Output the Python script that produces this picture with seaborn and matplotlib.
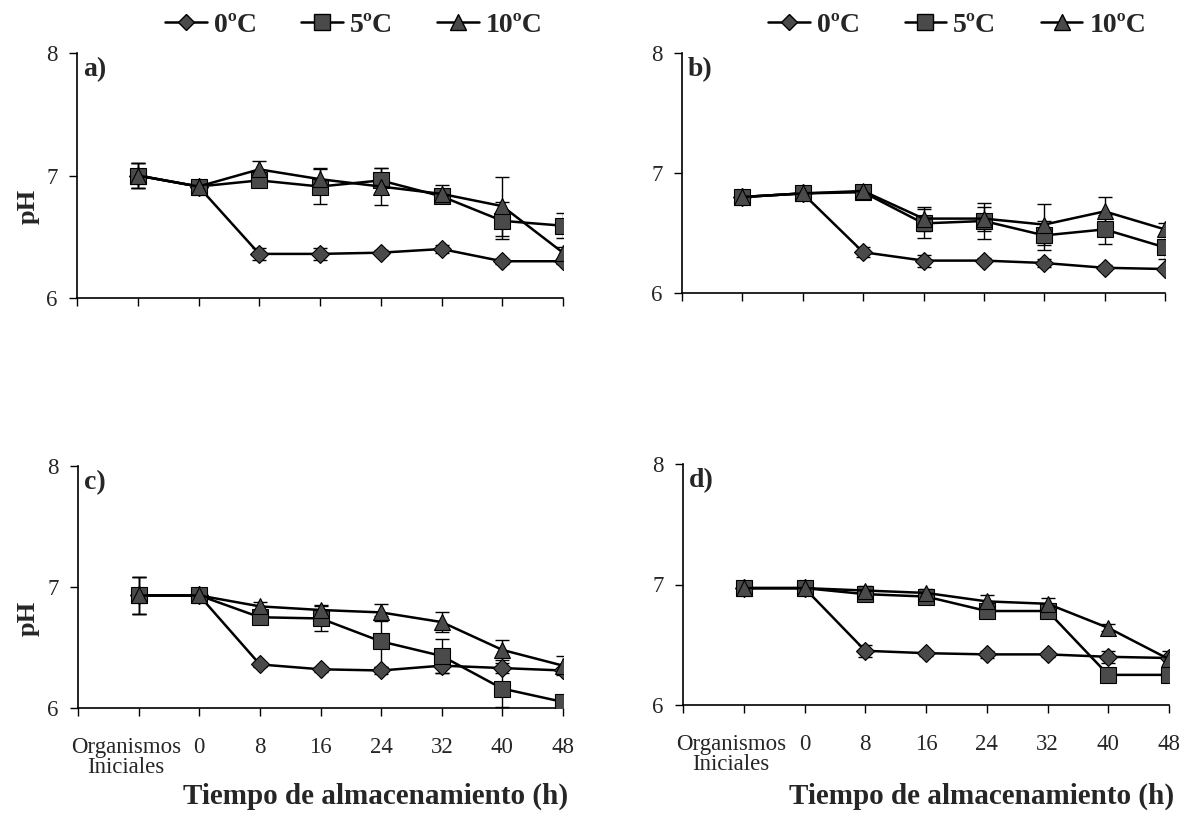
import matplotlib
matplotlib.use("Agg")
import matplotlib.pyplot as plt
import seaborn as sns
from matplotlib.lines import Line2D

# --- data ---
x_labels = ["Organismos\nIniciales", "0", "8", "16", "24", "32", "40", "48"]
temps = ["0ºC", "5ºC", "10ºC"]

a_0 = [7.00, 6.91, 6.36, 6.36, 6.37, 6.40, 6.30, 6.30]
a_5 = [7.00, 6.91, 6.96, 6.91, 6.96, 6.83, 6.63, 6.59]
a_10 = [7.00, 6.91, 7.05, 6.97, 6.91, 6.85, 6.75, 6.37]
a_0_err = [0.10, 0.02, 0.05, 0.05, 0.02, 0.03, 0.02, 0.02]
a_5_err = [0.10, 0.02, 0.05, 0.14, 0.10, 0.05, 0.15, 0.10]
a_10_err = [0.10, 0.02, 0.07, 0.09, 0.15, 0.07, 0.24, 0.05]

b_0 = [6.80, 6.83, 6.34, 6.27, 6.27, 6.25, 6.21, 6.20]
b_5 = [6.80, 6.83, 6.84, 6.58, 6.60, 6.48, 6.53, 6.38]
b_10 = [6.80, 6.83, 6.85, 6.62, 6.62, 6.57, 6.68, 6.53]
b_0_err = [0.02, 0.02, 0.04, 0.05, 0.02, 0.03, 0.02, 0.02]
b_5_err = [0.02, 0.02, 0.02, 0.12, 0.15, 0.12, 0.12, 0.10]
b_10_err = [0.02, 0.02, 0.03, 0.10, 0.10, 0.17, 0.12, 0.05]

c_0 = [6.93, 6.93, 6.36, 6.32, 6.31, 6.35, 6.33, 6.31]
c_5 = [6.93, 6.93, 6.75, 6.74, 6.55, 6.43, 6.16, 6.05]
c_10 = [6.93, 6.93, 6.84, 6.81, 6.79, 6.71, 6.48, 6.35]
c_0_err = [0.15, 0.02, 0.02, 0.02, 0.03, 0.06, 0.04, 0.02]
c_5_err = [0.15, 0.02, 0.04, 0.10, 0.21, 0.14, 0.15, 0.03]
c_10_err = [0.15, 0.02, 0.04, 0.04, 0.07, 0.08, 0.08, 0.08]

d_0 = [6.97, 6.97, 6.45, 6.43, 6.42, 6.42, 6.40, 6.39]
d_5 = [6.97, 6.97, 6.92, 6.90, 6.78, 6.78, 6.25, 6.25]
d_10 = [6.97, 6.97, 6.95, 6.93, 6.86, 6.84, 6.64, 6.38]
d_0_err = [0.02, 0.02, 0.05, 0.02, 0.03, 0.02, 0.05, 0.02]
d_5_err = [0.02, 0.02, 0.03, 0.03, 0.03, 0.03, 0.02, 0.02]
d_10_err = [0.02, 0.02, 0.04, 0.03, 0.05, 0.05, 0.03, 0.07]

panels = {
    "a)": ([a_0, a_5, a_10], [a_0_err, a_5_err, a_10_err]),
    "b)": ([b_0, b_5, b_10], [b_0_err, b_5_err, b_10_err]),
    "c)": ([c_0, c_5, c_10], [c_0_err, c_5_err, c_10_err]),
    "d)": ([d_0, d_5, d_10], [d_0_err, d_5_err, d_10_err]),
}

# --- style ---
sns.set_theme(style="ticks")
plt.rcParams["font.family"] = ["Liberation Serif", "DejaVu Serif"]

markers = ["D", "s", "^"]
msizes = [9.5, 12, 12]
face = "#4a4a4a"

W, H = 1185, 815
fig = plt.figure(figsize=(W / 100, H / 100), dpi=100)

# axes boxes in pixels: left, right, top, bottom
px = {
    "a)": (77, 563, 53, 298),
    "b)": (682, 1165, 53, 293),
    "c)": (78, 563, 466, 708),
    "d)": (683, 1169, 464, 705),
}

idx = list(range(len(x_labels)))

for name, (series, errs) in panels.items():
    l, r, t, b = px[name]
    ax = fig.add_axes([l / W, 1 - b / H, (r - l) / W, (b - t) / H])
    for k in range(3):
        ax.errorbar(idx, series[k], yerr=errs[k], fmt="none", ecolor="black",
                    elinewidth=1, capsize=5, capthick=1, zorder=2)
        sns.lineplot(x=idx, y=series[k], ax=ax, color="black", lw=1.8,
                     marker=markers[k], markersize=msizes[k],
                     markerfacecolor=face, markeredgecolor="black",
                     markeredgewidth=0.8, zorder=3 + k)

    ax.set_xlim(-1, 7)
    ax.set_ylim(6, 8)
    ax.set_yticks([6, 7, 8])
    ax.set_xticks(range(-1, 8))
    bottom = name in ("c)", "d)")
    if bottom:
        ax.set_xticklabels(["", ""] + x_labels[1:], fontsize=16.5)
        # first category label sits a little left of its tick in the original
        ax.annotate(x_labels[0], xy=(idx[0], 0),
                    xycoords=ax.get_xaxis_transform(), xytext=(-9, -21),
                    textcoords="offset points", ha="center", va="top",
                    fontsize=16.5, linespacing=0.95)
        ax.set_xlabel("Tiempo de almacenamiento (h)", fontsize=21,
                      fontweight="bold")
        ax.xaxis.set_label_coords(0.614, (b - 783) / (b - t))
    else:
        ax.set_xticklabels([""] * 9)
    ax.tick_params(axis="y", labelsize=16.5, length=6, width=1,
                   color="black", direction="out", pad=8)
    ax.tick_params(axis="x", length=6, width=1, color="black",
                   direction="out", pad=15)
    sns.despine(ax=ax)
    for s in ("left", "bottom"):
        ax.spines[s].set_color("black")
        ax.spines[s].set_linewidth(1.2)
    if name in ("a)", "c)"):
        ax.set_ylabel("pH", fontsize=19, fontweight="bold")
        ax.yaxis.set_label_coords((40 - l) / (r - l), 0.372)
    ax.text(6 / (r - l), 0.985, name, transform=ax.transAxes, fontsize=20,
            fontweight="bold", va="top", ha="left")
    ax.set_facecolor("white")

    if not bottom:
        handles = [Line2D([], [], color="black", lw=1.8, marker=markers[k],
                          markersize=msizes[k] - 1, markerfacecolor=face,
                          markeredgecolor="black") for k in range(3)]
        ax.legend(handles, temps, ncol=3, loc="center",
                  bbox_to_anchor=(0.57, (b - 25) / (b - t)),
                  frameon=False, handlelength=1.5, handletextpad=0.25,
                  columnspacing=1.6, borderpad=0,
                  prop={"size": 20, "weight": "bold"})

fig.savefig("out.png", dpi=100, facecolor="white")
